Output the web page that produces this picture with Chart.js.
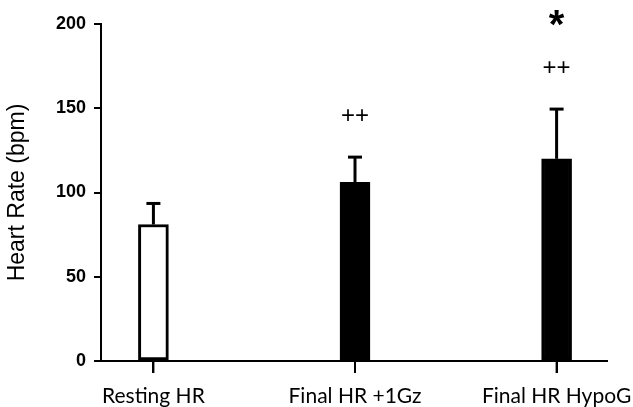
<!DOCTYPE html>
<html>
<head>
<meta charset="utf-8">
<script src="https://cdn.jsdelivr.net/npm/chart.js@4/dist/chart.umd.min.js"></script>
<style>
  html, body { margin: 0; padding: 0; background: #fff; }
  #wrap { width: 633px; height: 407px; }
</style>
</head>
<body>
<div id="wrap"><canvas id="chart"></canvas></div>
<script>
// --- Data ---
const categories = ['Resting HR', 'Final HR +1Gz', 'Final HR HypoG'];
const heartRate = [81, 106, 120];
const heartRateErr = [12.5, 15, 29.5];
const plusMarks = ['', '++', '++'];
const starMarks = ['', '', '*'];
const yTicks = [0, 50, 100, 150, 200];

// Upper error bars, x tick marks and the significance marks
const errorBars = {
    id: 'errorBars',
    afterDatasetsDraw(chart) {
        const ctx = chart.ctx;
        const xs = chart.scales.x;
        const ys = chart.scales.y;
        ctx.save();
        ctx.strokeStyle = '#000';
        ctx.fillStyle = '#000';
        heartRate.forEach((v, i) => {
            const x = xs.getPixelForValue(i);
            const yTop = ys.getPixelForValue(v);
            const yErr = ys.getPixelForValue(v + heartRateErr[i]);
            ctx.lineWidth = 3;
            ctx.beginPath();
            ctx.moveTo(x, yTop);
            ctx.lineTo(x, yErr);
            ctx.stroke();
            ctx.beginPath();
            ctx.moveTo(x - 7, yErr);
            ctx.lineTo(x + 7, yErr);
            ctx.stroke();

            // tick mark under each bar
            ctx.lineWidth = 2;
            ctx.beginPath();
            ctx.moveTo(x, xs.top);
            ctx.lineTo(x, xs.top + 12);
            ctx.stroke();

            ctx.textAlign = 'center';
            ctx.textBaseline = 'middle';
            if (plusMarks[i]) {
                ctx.font = '24px "Liberation Sans", Arial, sans-serif';
                ctx.fillText(plusMarks[i], x, yErr - 41);
            }
            if (starMarks[i]) {
                ctx.font = 'bold 40px "Liberation Sans", Arial, sans-serif';
                ctx.fillText(starMarks[i], x, yErr - 82);
            }
        });
        ctx.restore();
    }
};

new Chart(document.getElementById('chart'), {
    type: 'bar',
    data: {
        datasets: [{
            data: heartRate.map((v, i) => ({ x: i, y: v })),
            backgroundColor: ['#fff', '#000', '#000'],
            borderColor: '#000',
            borderWidth: 3,
            borderSkipped: false,
            barThickness: 30
        }]
    },
    options: {
        responsive: true,
        maintainAspectRatio: false,
        animation: false,
        layout: { padding: { top: 24, right: 26, left: 0, bottom: 0 } },
        plugins: { legend: { display: false }, tooltip: { enabled: false } },
        scales: {
            x: {
                type: 'linear',
                offset: false,
                min: -0.26,
                max: 2.25,
                afterBuildTicks: s => { s.ticks = categories.map((c, i) => ({ value: i })); },
                afterFit: s => { s.height = 46; s.paddingLeft = 0; s.paddingRight = 0; },
                border: { color: '#000', width: 2 },
                grid: { offset: false, drawOnChartArea: false, drawTicks: true, tickLength: 12, color: '#000', lineWidth: 2 },
                ticks: {
                    autoSkip: false,
                    maxRotation: 0,
                    padding: 11,
                    color: '#000',
                    font: { family: 'Lato, sans-serif', size: 21 },
                    callback: v => categories[v]
                }
            },
            y: {
                min: 0,
                max: 200,
                afterBuildTicks: s => { s.ticks = yTicks.map(v => ({ value: v })); },
                afterFit: s => { s.width = 101; },
                border: { color: '#000', width: 2 },
                grid: { drawOnChartArea: false, drawTicks: true, tickLength: 7, color: '#000', lineWidth: 2 },
                ticks: {
                    padding: 8,
                    color: '#000',
                    font: { family: '"Liberation Sans", Arial, sans-serif', size: 18, weight: 'bold' }
                },
                title: {
                    display: true,
                    text: 'Heart Rate (bpm)',
                    color: '#000',
                    padding: { top: 4, bottom: 0 },
                    font: { family: '"Liberation Sans", Arial, sans-serif', size: 23 }
                }
            }
        }
    },
    plugins: [errorBars]
});
</script>
</body>
</html>
